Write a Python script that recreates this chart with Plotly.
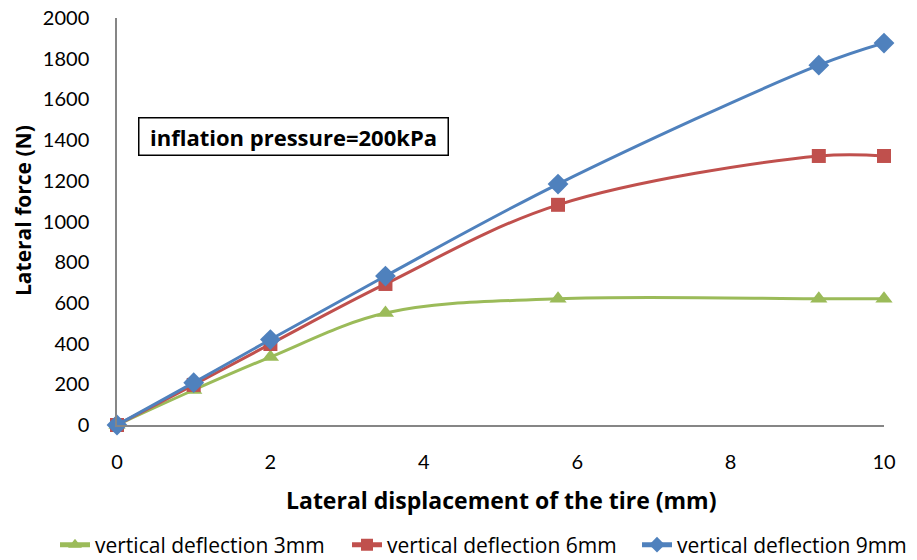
import plotly.graph_objects as go

x_vals = [0, 1, 2, 3.5, 5.75, 9.15, 10]
force_3mm = [0, 172, 334, 550, 620, 620, 620]
force_6mm = [0, 197, 398, 693, 1082, 1322, 1322]
force_9mm = [0, 208, 420, 732, 1184, 1768, 1877]
series_names = ["vertical deflection 3mm", "vertical deflection 6mm", "vertical deflection 9mm"]
x_ticks = [0, 2, 4, 6, 8, 10]
y_ticks = list(range(0, 2001, 200))

colors = ["#9BBB59", "#C0504D", "#4F81BD"]
symbols = ["triangle-up", "square", "diamond"]
sizes = [15, 14, 16]
legend_ids = ["legend", "legend2", "legend3"]
legend_x_px = [55, 347, 637]
TICKFONT = "Lato, Carlito, Calibri, sans-serif"
TEXTFONT = "'Open Sans', Lato, sans-serif"

fig = go.Figure()
for name, ys, c, s, sz, lg in zip(series_names, [force_3mm, force_6mm, force_9mm], colors, symbols, sizes, legend_ids):
    fig.add_trace(go.Scatter(
        x=x_vals, y=ys, name=name, mode="lines+markers",
        line=dict(color=c, width=3, shape="spline", smoothing=1),
        marker=dict(symbol=s, size=sz, color=c),
        cliponaxis=False, legend=lg,
    ))

legend_common = dict(orientation="h", xref="container", yref="container",
                     xanchor="left", yanchor="middle", y=1 - 545 / 560,
                     font=dict(size=21, family=TEXTFONT), itemwidth=30,
                     itemsizing="constant",
                     bgcolor="rgba(0,0,0,0)", borderwidth=0)
legends = {}
for lg, xp in zip(legend_ids, legend_x_px):
    legends[lg] = dict(legend_common, x=xp / 917)

fig.update_layout(
    width=917, height=560,
    margin=dict(l=117, r=33, t=18, b=135, autoexpand=False),
    paper_bgcolor="white", plot_bgcolor="white",
    font=dict(family=TEXTFONT, size=20, color="#000000"),
    showlegend=True,
    xaxis=dict(range=[0, 10], tickvals=x_ticks, showgrid=False, zeroline=False,
               showline=True, linecolor="#868686", linewidth=1.5,
               ticks="", ticklabelstandoff=18, tickfont=dict(size=20, family=TICKFONT)),
    yaxis=dict(range=[0, 2000], tickvals=y_ticks, showgrid=False, zeroline=False,
               showline=True, linecolor="#868686", linewidth=1.5,
               ticks="", ticklabelstandoff=22, tickfont=dict(size=20, family=TICKFONT)),
    annotations=[
        dict(text="<b>Lateral displacement of the tire (mm)</b>", xref="paper", yref="paper",
             x=(501 - 117) / 767, y=-75 / 407, xanchor="center", yanchor="middle", showarrow=False,
             font=dict(size=23)),
        dict(text="<b>Lateral force (N)</b>", xref="paper", yref="paper",
             x=-94 / 767, y=(425 - 211) / 407, xanchor="center", yanchor="middle", showarrow=False,
             textangle=-90, font=dict(size=21)),
        dict(text="<b>inflation pressure=200kPa</b>", xref="paper", yref="paper",
             x=(293 - 117) / 767, y=(425 - 136) / 407, xanchor="center", yanchor="middle",
             showarrow=False, font=dict(size=22), bordercolor="#000000", borderwidth=1.5,
             width=302, height=30, borderpad=3, bgcolor="white"),
    ],
    **legends,
)

fig.write_html("out.html", post_script="document.body.style.margin='0';",
               config={"displayModeBar": False})
